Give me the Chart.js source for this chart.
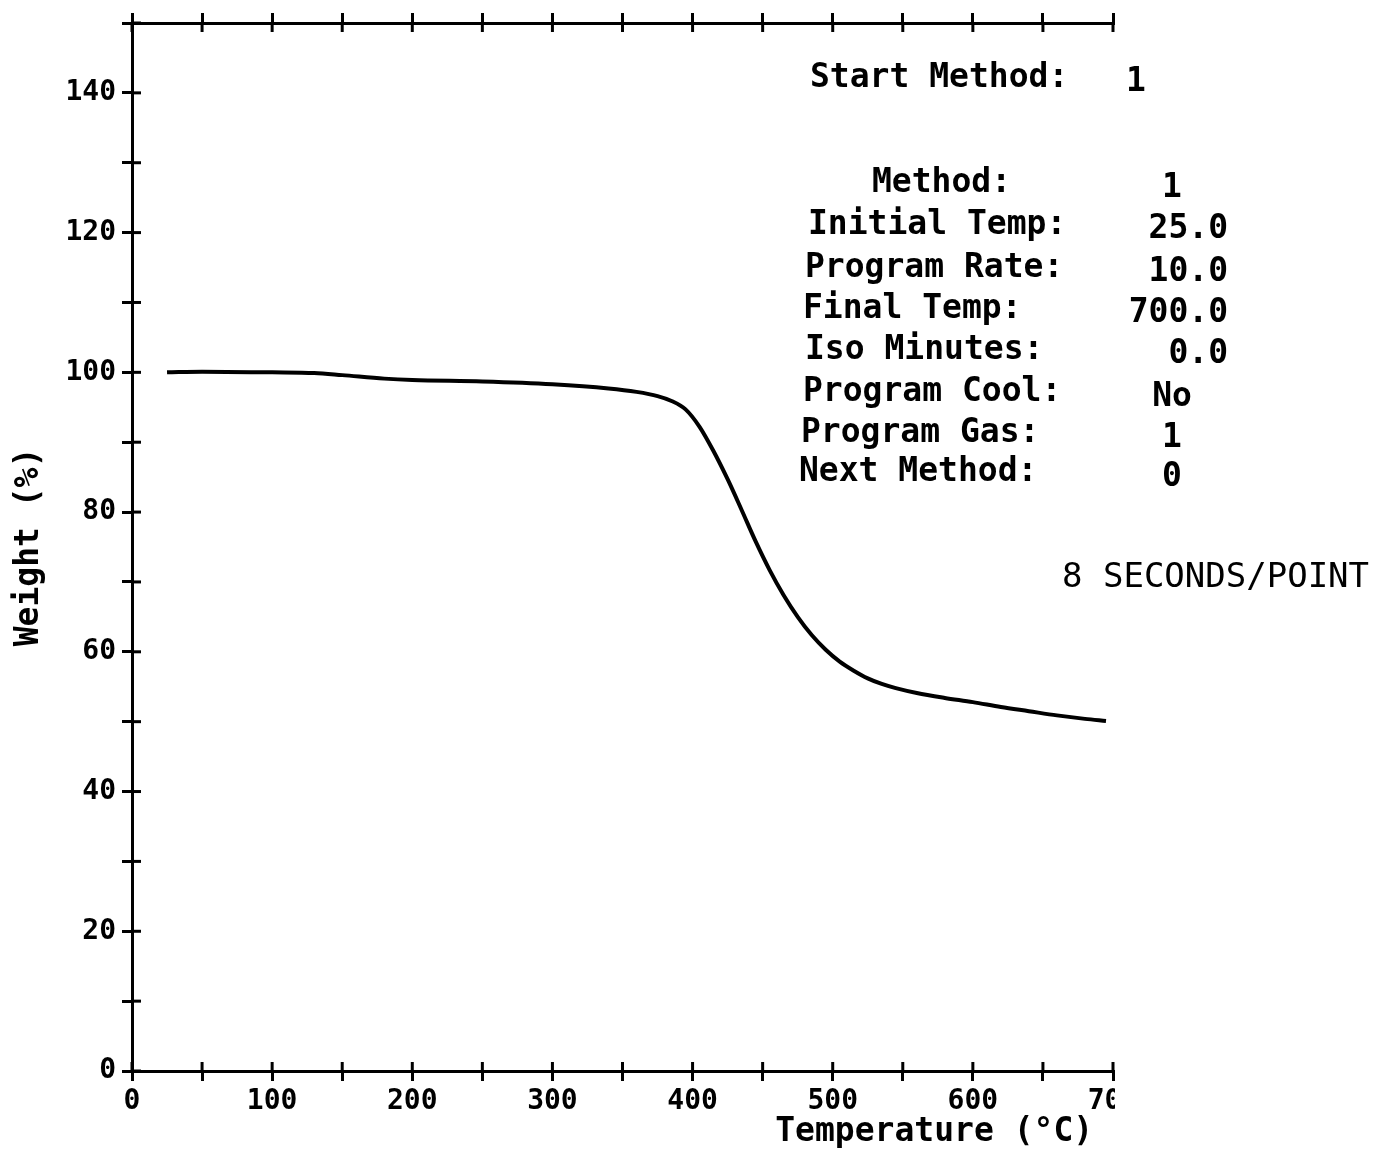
<!DOCTYPE html>
<html>
<head>
<meta charset="utf-8">
<script src="https://cdn.jsdelivr.net/npm/chart.js@4"></script>
<style>
    body { margin: 0; background: #fff; }
    #caja { width: 1381px; height: 1152px; }
</style>
</head>
<body>
<div id="caja"><canvas id="grafica"></canvas></div>
<script>
// curva TGA: temperatura (°C) y peso (%)
const temperaturas = [25, 50, 100, 130, 150, 180, 200, 250, 300, 340, 360, 375, 385, 395, 405, 415, 425, 435, 445, 455, 465, 475, 485, 495, 505, 515, 525, 535, 545, 560, 580, 600, 620, 640, 660, 680, 695]
const pesos = [100, 100.1, 100, 99.9, 99.6, 99.1, 98.9, 98.7, 98.3, 97.7, 97.2, 96.6, 95.9, 94.7, 92.2, 88.7, 84.7, 80.3, 75.8, 71.7, 68.1, 65.0, 62.4, 60.3, 58.6, 57.3, 56.2, 55.4, 54.8, 54.1, 53.4, 52.8, 52.1, 51.5, 50.9, 50.4, 50.1]

// texto del metodo
const inicio = ['Start Method:', '1']
const etiquetasMetodo = ['Method:', 'Initial Temp:', 'Program Rate:', 'Final Temp:', 'Iso Minutes:', 'Program Cool:', 'Program Gas:', 'Next Method:']
const valoresMetodo = ['1', '25.0', '10.0', '700.0', '0.0', 'No', '1', '0']
const nota = '8 SECONDS/POINT'

const puntos = temperaturas.map((t, i) => {
    return { x: t, y: pesos[i] }
});

Chart.defaults.font.family = "'DejaVu Sans Mono', monospace"
Chart.defaults.color = '#000'

const textoMetodo = {
    id: 'textoMetodo',
    afterDraw(chart) {
        const ctx = chart.ctx
        const area = chart.chartArea
        ctx.save()

        // medias marcas hacia dentro
        ctx.strokeStyle = '#000'
        ctx.lineWidth = 3
        chart.scales.y.ticks.forEach(t => {
            let py = chart.scales.y.getPixelForValue(t.value)
            ctx.beginPath(); ctx.moveTo(area.left, py); ctx.lineTo(area.left + 9, py); ctx.stroke()
        });
        chart.scales.x.ticks.forEach(t => {
            let px = chart.scales.x.getPixelForValue(t.value)
            ctx.beginPath(); ctx.moveTo(px, area.bottom); ctx.lineTo(px, area.bottom - 9); ctx.stroke()
        });
        chart.scales.x2.ticks.forEach(t => {
            let px = chart.scales.x2.getPixelForValue(t.value)
            ctx.beginPath(); ctx.moveTo(px, area.top); ctx.lineTo(px, area.top + 9); ctx.stroke()
        });

        // el 700 sale cortado en el original
        ctx.fillStyle = '#fff'
        ctx.fillRect(area.right + 2, area.bottom + 12, 40, 30)

        ctx.fillStyle = '#000'
        ctx.textBaseline = 'middle'
        ctx.font = "bold 33px 'DejaVu Sans Mono'"
        ctx.textAlign = 'left'
        ctx.fillText(inicio[0], 810, 78)
        ctx.textAlign = 'center'
        ctx.fillText(inicio[1], 1136, 82)

        const izq = [872, 808, 805, 803, 805, 803, 801, 799]
        const filas = [183, 225, 268, 309, 350, 392, 433, 472]
        etiquetasMetodo.forEach((e, i) => {
            ctx.textAlign = 'left'
            ctx.fillText(e, izq[i], filas[i])
            let v = valoresMetodo[i]
            if (v.indexOf('.') >= 0) {
                ctx.textAlign = 'right'
                ctx.fillText(v, 1228, filas[i] + 4)
            } else {
                ctx.textAlign = 'center'
                ctx.fillText(v, 1172, filas[i] + 5)
            }
        });

        ctx.font = "34px 'DejaVu Sans Mono'"
        ctx.textAlign = 'left'
        ctx.fillText(nota, 1062, 578)
        ctx.restore()
    }
}

const rejilla = {
    drawOnChartArea: false,
    drawTicks: true,
    tickLength: 10,
    color: '#000',
    lineWidth: 3
}

const ctx = document.getElementById('grafica');
const myChart = new Chart(ctx, {
    type: 'line',
    data: {
        datasets: [{
            label: 'Weight (%)',
            data: puntos,
            borderColor: '#000',
            borderWidth: 4,
            pointRadius: 0,
            cubicInterpolationMode: 'monotone',
            fill: false
        }]
    },
    options: {
        responsive: true,
        maintainAspectRatio: false,
        animation: false,
        layout: { padding: { left: 0, right: 268, top: 0, bottom: 0 } },
        plugins: {
            legend: { display: false },
            tooltip: { enabled: false }
        },
        scales: {
            x: {
                type: 'linear',
                position: 'bottom',
                min: 0,
                max: 700,
                grid: rejilla,
                border: { color: '#000', width: 3 },
                ticks: {
                    stepSize: 50,
                    autoSkip: false,
                    maxRotation: 0,
                    padding: 4,
                    font: { size: 28, weight: 'bold' },
                    callback: v => v % 100 === 0 ? String(v) : ''
                },
                title: {
                    display: true,
                    text: 'Temperature (°C) ',
                    align: 'end',
                    font: { size: 33, weight: 'bold' },
                    padding: 0
                },
                afterFit: scale => { scale.height = 81 }
            },
            x2: {
                type: 'linear',
                position: 'top',
                min: 0,
                max: 700,
                grid: rejilla,
                border: { color: '#000', width: 3 },
                ticks: { stepSize: 50, display: false },
                afterFit: scale => { scale.height = 23 }
            },
            y: {
                min: 0,
                max: 150,
                grid: rejilla,
                border: { color: '#000', width: 3 },
                ticks: {
                    stepSize: 10,
                    autoSkip: false,
                    padding: 6,
                    font: { size: 28, weight: 'bold' },
                    callback: v => v % 20 === 0 && v < 150 ? String(v) : ''
                },
                title: {
                    display: true,
                    text: 'Weight (%)',
                    font: { size: 33, weight: 'bold' },
                    padding: { top: 10, bottom: 0 }
                },
                afterFit: scale => { scale.width = 132 }
            }
        }
    },
    plugins: [textoMetodo]
});
</script>
</body>
</html>
